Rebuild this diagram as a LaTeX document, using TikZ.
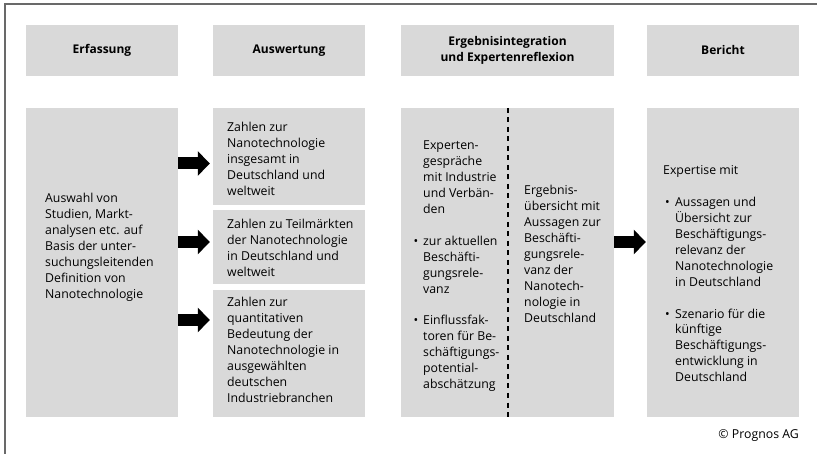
\documentclass[tikz,border=0pt]{standalone}
\usepackage{fontspec}
\setmainfont{Open Sans}
\usetikzlibrary{arrows.meta}
\definecolor{boxgray}{RGB}{217,217,217}
\definecolor{framegray}{RGB}{105,105,105}
\newcommand\bodyfont{\fontsize{12.3}{15.9}\selectfont}
\newcommand\hbul{\llap{\textbullet\hspace{5pt}}}
\newcommand\ibul{\makebox[12pt][l]{\hspace{2pt}\textbullet}}
\newcommand\ind{\hspace*{12pt}}
\begin{document}
\begin{tikzpicture}[x=1pt,y=-1pt,
  gbox/.style={rectangle, fill=boxgray, draw=none, inner sep=0pt},
  headtext/.style={align=center, font=\bfseries\fontsize{12}{16}\selectfont, inner sep=0pt},
  bodytext/.style={anchor=base west, inner sep=0pt, font=\bodyfont},
  blockarrow/.style={line width=12pt, -{Triangle[length=12pt,width=24pt]}},
  dashline/.style={line width=1.1pt, dash pattern=on 5pt off 4.5pt},
  frameline/.style={draw=framegray, line width=1.5pt}]
\useasboundingbox (0,0) rectangle (817,454);
% frame
\draw[frameline] (5,454) -- (5,4) -- (817,4);
% header boxes
\node[gbox, minimum width=152pt, minimum height=51pt] (h1) at (102,50.5) {};
\node[gbox, minimum width=152pt, minimum height=51pt] (h2) at (289,50.5) {};
\node[gbox, minimum width=213pt, minimum height=51pt] (h3) at (507.5,50.5) {};
\node[gbox, minimum width=152pt, minimum height=51pt] (h4) at (723,50.5) {};
\node[headtext] (t1) at (h1.center) {Erfassung};
\node[headtext] (t2) at (h2.center) {Auswertung};
\node[headtext] (t3) at (h3.center) {Ergebnisintegration\\und Expertenreflexion};
\node[headtext] (t4) at (h4.center) {Bericht};
% body boxes
\node[gbox, minimum width=152pt, minimum height=309pt] (b1) at (102,262.5) {};
\node[gbox, minimum width=152pt, minimum height=97pt] (b2a) at (289,156.5) {};
\node[gbox, minimum width=152pt, minimum height=74pt] (b2b) at (289,247) {};
\node[gbox, minimum width=152pt, minimum height=127pt] (b2c) at (289,353.5) {};
\node[gbox, minimum width=213pt, minimum height=309pt] (b3) at (507.5,262.5) {};
\node[gbox, minimum width=152pt, minimum height=309pt] (b4) at (723,262.5) {};
% dashed separator
\coordinate (d1) at (508,108);
\coordinate (d2) at (508,417);
\draw[dashline] (d1) -- (d2);
% texts
\node[bodytext] (x1) at (45,203) {\begin{tabular}[t]{@{}l@{}}Auswahl von\\Studien, Markt-\\analysen etc. auf\\Basis der unter-\\suchungsleitenden\\Definition von\\Nanotechnologie\end{tabular}};
\node[bodytext] (x2a) at (227,132) {\begin{tabular}[t]{@{}l@{}}Zahlen zur\\Nanotechnologie\\insgesamt in\\Deutschland und\\weltweit\end{tabular}};
\node[bodytext] (x2b) at (227,229) {\begin{tabular}[t]{@{}l@{}}Zahlen zu Teilmärkten\\der Nanotechnologie\\in Deutschland und\\weltweit\end{tabular}};
\node[bodytext] (x2c) at (227,307) {\begin{tabular}[t]{@{}l@{}}Zahlen zur\\quantitativen\\Bedeutung der\\Nanotechnologie in\\ausgewählten\\deutschen\\Industriebranchen\end{tabular}};
\node[bodytext] (x3a) at (423,150) {\begin{tabular}[t]{@{}l@{}}Experten-\\gespräche\\mit Industrie\\und Verbän-\\den\\ \mbox{}\\\hbul zur aktuellen\\Beschäfti-\\gungsrele-\\vanz\\ \mbox{}\\\hbul Einflussfak-\\toren für Be-\\schäftigungs-\\potential-\\abschätzung\end{tabular}};
\node[bodytext] (x3b) at (524,195) {\begin{tabular}[t]{@{}l@{}}Ergebnis-\\übersicht mit\\Aussagen zur\\Beschäfti-\\gungsrele-\\vanz der\\Nanotech-\\nologie in\\Deutschland\end{tabular}};
\node[bodytext] (x4) at (663,175) {\begin{tabular}[t]{@{}l@{}}Expertise mit\\ \mbox{}\\\ibul Aussagen und\\\ind Übersicht zur\\\ind Beschäftigungs-\\\ind relevanz der\\\ind Nanotechnologie\\\ind in Deutschland\\ \mbox{}\\\ibul Szenario für die\\\ind künftige\\\ind Beschäftigungs-\\\ind entwicklung in\\\ind Deutschland\end{tabular}};
\node[anchor=base east, inner sep=0pt, font=\bodyfont] (copy) at (799,438) {© Prognos AG};
% arrows
\coordinate (a1) at (0,163.5);
\coordinate (a2) at (0,242);
\coordinate (a3) at (0,320);
\draw[blockarrow, shorten >=3pt] (b1.east |- a1) -- (b2a.west |- a1);
\draw[blockarrow, shorten >=3pt] (b1.east |- a2) -- (b2b.west |- a2);
\draw[blockarrow, shorten >=3pt] (b1.east |- a3) -- (b2c.west |- a3);
\draw[blockarrow, shorten >=1pt] (b3.east |- a2) -- (b4.west |- a2);
\end{tikzpicture}
\end{document}
